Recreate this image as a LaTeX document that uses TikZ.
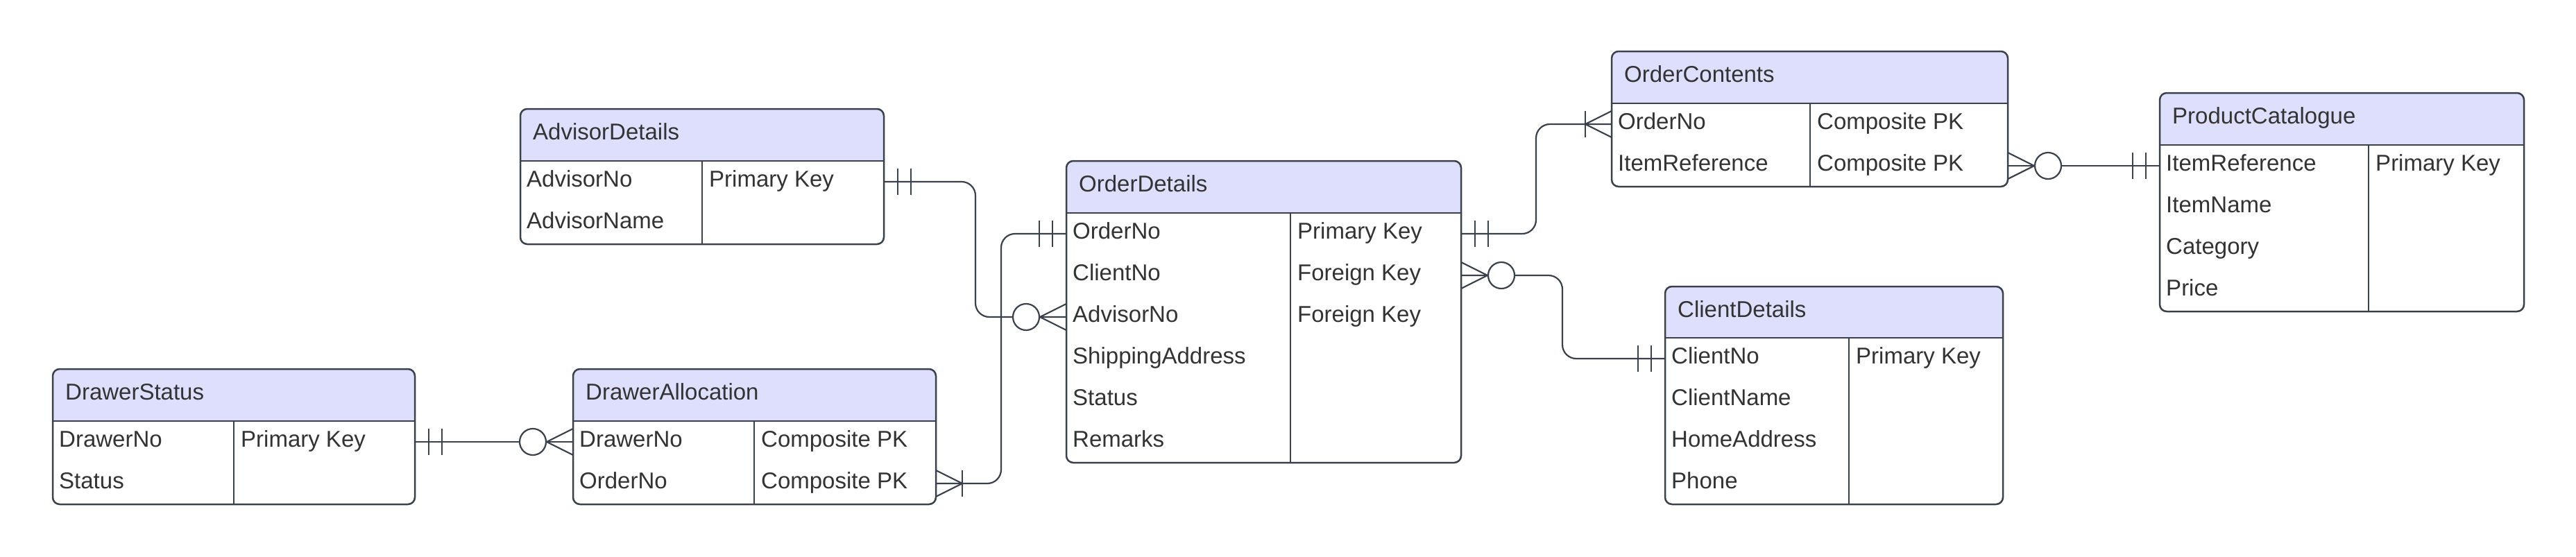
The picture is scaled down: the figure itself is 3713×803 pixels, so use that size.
\documentclass[tikz,border=0pt]{standalone}
\usepackage{fontspec}
\setmainfont{Liberation Sans}
\usetikzlibrary{calc}
\definecolor{lncol}{HTML}{3A414A}
\definecolor{hdrcol}{HTML}{DEDFFC}
\definecolor{txtcol}{HTML}{333333}
\tikzset{
  tblborder/.style={draw=lncol, line width=2.5pt, rounded corners=10pt},
  hdrsep/.style={draw=lncol, line width=2.5pt},
  coldiv/.style={draw=lncol, line width=1.2pt},
  ttl/.style={anchor=base west, inner sep=0pt, text=txtcol, font=\fontsize{33}{39}\selectfont},
  rowtxt/.style={anchor=base west, inner sep=0pt, text=txtcol, font=\fontsize{33}{39}\selectfont},
  conn/.style={draw=lncol, line width=2.2pt, rounded corners=20pt},
  thinconn/.style={draw=lncol, line width=1.3pt},
  tick/.style={draw=lncol, line width=2pt},
  foot/.style={draw=lncol, line width=2.2pt},
}
% name l t r hb b div title
\newcommand{\ertable}[8]{%
  \begin{scope}
    \clip[rounded corners=10pt] (#2,#3) rectangle (#4,#6);
    \fill[hdrcol] (#2,#3) rectangle (#4,#5);
  \end{scope}
  \draw[coldiv] (#7,#5) -- (#7,#6);
  \draw[hdrsep] (#2,#5) -- (#4,#5);
  \node[tblborder, inner sep=0pt, outer sep=0pt, minimum width={(#4-#2)*1pt}, minimum height={(#6-#3)*1pt}, anchor=north west] (#1) at (#2,#3) {};
  \node[ttl] (#1-title) at ({#2+18},{(#3+#5)/2+7}) {#8};
}
% name l div r y ltext rtext
\newcommand{\errow}[7]{%
  \coordinate (#1-w) at (#2,#5);
  \coordinate (#1-e) at (#4,#5);
  \node[rowtxt] (#1-a) at ({#2+9},{#5+7}) {#6};
  \node[rowtxt] (#1-b) at ({#3+10},{#5+7}) {#7};
}
\newcommand{\erOne}[2]{%
  \draw[tick] ($(#1)+({#2*20},-19)$) -- ++(0,38);
  \draw[tick] ($(#1)+({#2*39},-19)$) -- ++(0,38);
}
\newcommand{\erZeroMany}[2]{%
  \draw[foot] ($(#1)+(0,-19)$) -- ($(#1)+({#2*38},0)$) -- ($(#1)+(0,19)$);
  \draw[foot, fill=white] ($(#1)+({#2*58},0)$) circle[radius=19];
}
\newcommand{\erOneMany}[2]{%
  \draw[foot] ($(#1)+(0,-19)$) -- ($(#1)+({#2*38},0)$) -- ($(#1)+(0,19)$);
  \draw[tick] ($(#1)+({#2*38},-19)$) -- ++(0,38);
}
\begin{document}
\begin{tikzpicture}[x=1pt,y=-1pt]
\fill[white] (0,0) rectangle (3713,803);
\useasboundingbox (0,0) rectangle (3713,803);

% DrawerStatus
\ertable{ds}{76}{532}{598}{607}{727}{337}{DrawerStatus}
\errow{ds-r0}{76}{337}{598}{637}{DrawerNo}{Primary Key}
\errow{ds-r1}{76}{337}{598}{697}{Status}{}

% DrawerAllocation
\ertable{da}{826}{532}{1349}{607}{727}{1087}{DrawerAllocation}
\errow{da-r0}{826}{1087}{1349}{637}{DrawerNo}{Composite PK}
\errow{da-r1}{826}{1087}{1349}{697}{OrderNo}{Composite PK}

% AdvisorDetails
\ertable{ad}{750}{157}{1274}{232}{352}{1012}{AdvisorDetails}
\errow{ad-r0}{750}{1012}{1274}{262}{AdvisorNo}{Primary Key}
\errow{ad-r1}{750}{1012}{1274}{322}{AdvisorName}{}

% OrderDetails
\ertable{od}{1537}{232}{2106}{307}{667}{1860}{OrderDetails}
\errow{od-r0}{1537}{1860}{2106}{337}{OrderNo}{Primary Key}
\errow{od-r1}{1537}{1860}{2106}{397}{ClientNo}{Foreign Key}
\errow{od-r2}{1537}{1860}{2106}{457}{AdvisorNo}{Foreign Key}
\errow{od-r3}{1537}{1860}{2106}{517}{ShippingAddress}{}
\errow{od-r4}{1537}{1860}{2106}{577}{Status}{}
\errow{od-r5}{1537}{1860}{2106}{637}{Remarks}{}

% OrderContents
\ertable{oc}{2323}{74}{2894}{149}{269}{2609}{OrderContents}
\errow{oc-r0}{2323}{2609}{2894}{179}{OrderNo}{Composite PK}
\errow{oc-r1}{2323}{2609}{2894}{239}{ItemReference}{Composite PK}

% ClientDetails
\ertable{cd}{2400}{413}{2887}{487}{727}{2665}{ClientDetails}
\errow{cd-r0}{2400}{2665}{2887}{517}{ClientNo}{Primary Key}
\errow{cd-r1}{2400}{2665}{2887}{577}{ClientName}{}
\errow{cd-r2}{2400}{2665}{2887}{637}{HomeAddress}{}
\errow{cd-r3}{2400}{2665}{2887}{697}{Phone}{}

% ProductCatalogue
\ertable{pc}{3113}{134}{3638}{209}{449}{3414}{ProductCatalogue}
\errow{pc-r0}{3113}{3414}{3638}{239}{ItemReference}{Primary Key}
\errow{pc-r1}{3113}{3414}{3638}{299}{ItemName}{}
\errow{pc-r2}{3113}{3414}{3638}{359}{Category}{}
\errow{pc-r3}{3113}{3414}{3638}{419}{Price}{}

% connectors
\draw[conn] (ds-r0-e) -- (da-r0-w);
\draw[conn] (ad-r0-e) -- ++(132,0) |- (od-r2-w);
\draw[conn] (da-r1-e) -- ++(94,0) |- (od-r0-w);
\draw[conn] (od-r0-e) -- ++(108,0) |- (oc-r0-w);
\draw[conn] (od-r1-e) -- ++(146,0) |- (cd-r0-w);
\draw[thinconn] (oc-r1-e) -- (pc-r0-w);

% ends
\erOne{ds-r0-e}{1}
\erZeroMany{da-r0-w}{-1}
\erOne{ad-r0-e}{1}
\erZeroMany{od-r2-w}{-1}
\erOneMany{da-r1-e}{1}
\erOne{od-r0-w}{-1}
\erOne{od-r0-e}{1}
\erOneMany{oc-r0-w}{-1}
\erZeroMany{od-r1-e}{1}
\erOne{cd-r0-w}{-1}
\erZeroMany{oc-r1-e}{1}
\erOne{pc-r0-w}{-1}
\end{tikzpicture}
\end{document}
